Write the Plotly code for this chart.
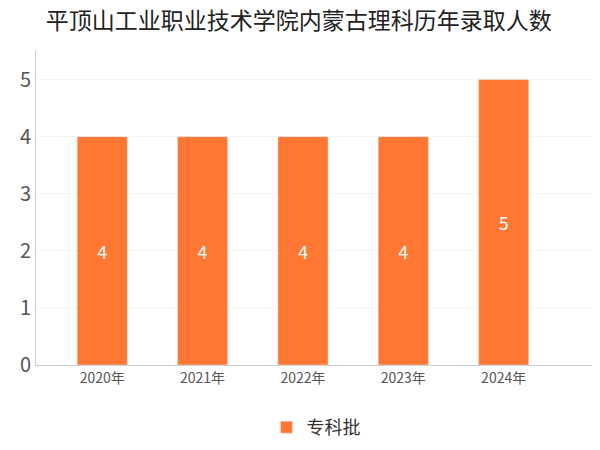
import plotly.graph_objects as go

years = ["2020年", "2021年", "2022年", "2023年", "2024年"]
counts = [4, 4, 4, 4, 5]
series_name = "专科批"

fig = go.Figure()
fig.add_trace(go.Bar(
    x=years, y=counts, name=series_name,
    marker=dict(color="#FF7733"),
    width=0.5,
    text=counts, textposition="inside", insidetextanchor="middle",
    textfont=dict(color="white", size=18),
    showlegend=True,
))

fig.update_layout(
    width=600, height=450,
    font=dict(family="Noto Sans CJK SC, sans-serif", color="#555"),
    title=dict(text="平顶山工业职业技术学院内蒙古理科历年录取人数", x=0.063, y=0.99,
               yanchor="top", font=dict(size=23, color="#222")),
    plot_bgcolor="white", paper_bgcolor="white",
    margin=dict(l=24, r=12, t=43, b=71),
    legend=dict(orientation="h", x=0.5, xanchor="center", y=-0.14, yanchor="top",
                font=dict(size=18, color="#333")),
    bargap=0.5,
)
fig.update_xaxes(range=[-0.66, 4.92], showline=True, linecolor="#ccc",
                 tickfont=dict(size=14, color="#555"), ticks="")
fig.update_yaxes(range=[0, 5.5], dtick=1, showline=True, linecolor="#ccc",
                 gridcolor="#f5f5f5", zeroline=False,
                 tickfont=dict(size=20, color="#555"))

fig.write_html("out.html")
